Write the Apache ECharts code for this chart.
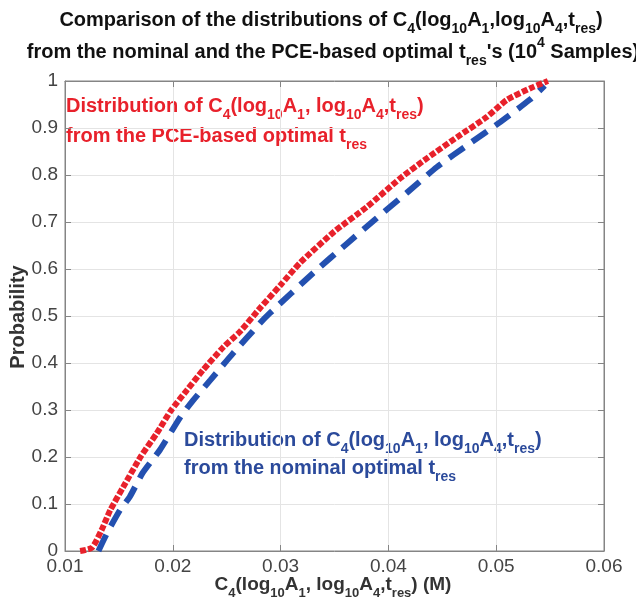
<!DOCTYPE html>
<html>
<head>
<meta charset="utf-8">
<script src="https://cdn.jsdelivr.net/npm/echarts@6/dist/echarts.min.js"></script>
<style>
html,body{margin:0;padding:0;background:#fff;}
#chart{width:636px;height:603px;}
</style>
</head>
<body>
<div id="chart"></div>
<script>
// Axis ticks
var xTicks = [0.01, 0.02, 0.03, 0.04, 0.05, 0.06];
var yTicks = [0, 0.1, 0.2, 0.3, 0.4, 0.5, 0.6, 0.7, 0.8, 0.9, 1];

// PCE-based optimal t_res (red dotted)
var pceX = [0.0114, 0.0125, 0.0134, 0.0142, 0.0154, 0.0170, 0.0185, 0.0198, 0.0213, 0.0228, 0.0247, 0.0262, 0.0281, 0.0300, 0.0318, 0.0350, 0.0380, 0.0411, 0.0436, 0.0464, 0.0491, 0.0510, 0.0534, 0.0548];
var pceY = [0.000, 0.007, 0.045, 0.087, 0.136, 0.200, 0.250, 0.298, 0.342, 0.385, 0.434, 0.466, 0.517, 0.566, 0.613, 0.680, 0.732, 0.793, 0.836, 0.881, 0.923, 0.960, 0.987, 1.000];

// Nominal optimal t_res (blue dashed)
var nomX = [0.0131, 0.0139, 0.0151, 0.0160, 0.0172, 0.0188, 0.0207, 0.0219, 0.0235, 0.0256, 0.0281, 0.0290, 0.0330, 0.0362, 0.0389, 0.0417, 0.0445, 0.0476, 0.0504, 0.0531, 0.0545];
var nomY = [0.000, 0.038, 0.087, 0.115, 0.166, 0.215, 0.285, 0.321, 0.364, 0.421, 0.485, 0.506, 0.591, 0.655, 0.708, 0.762, 0.817, 0.868, 0.913, 0.960, 0.990];

var RED = '#e8212b';
var BLUE = '#2350b0';
var BLUE_TXT = '#2b4a9b';
var FONT = '"Liberation Sans", Arial, Helvetica, sans-serif';

function pairs(xs, ys){ return xs.map(function(x,i){ return [x, ys[i]]; }); }

function richStyles(color, size){
  var lh = Math.round(size*1.6);
  var ss = Math.round(size*0.7);
  return {
    b: {fontSize: size, fontWeight: 'bold', color: color, fontFamily: FONT, lineHeight: lh, verticalAlign: 'middle'},
    s: {fontSize: ss, fontWeight: 'bold', color: color, fontFamily: FONT, lineHeight: Math.round(ss*1.1), verticalAlign: 'bottom'},
    p: {fontSize: ss, fontWeight: 'bold', color: color, fontFamily: FONT, lineHeight: Math.round(ss*1.1), verticalAlign: 'top'}
  };
}

function rtext(x, y, text, color, size, align){
  return {
    type: 'text', x: x, y: y, silent: true,
    style: {
      text: text, rich: richStyles(color, size),
      align: align || 'left', verticalAlign: 'middle',
      fill: color, font: 'bold ' + size + 'px ' + FONT
    }
  };
}

var chart = echarts.init(document.getElementById('chart'), null, {renderer: 'canvas'});

var grid = {left: 65, right: 32, top: 81, bottom: 52, show: true, borderColor: '#858585', borderWidth: 1, backgroundColor: 'transparent'};

var baseX = { type: 'value', min: xTicks[0], max: xTicks[xTicks.length-1], interval: 0.01 };
var baseY = { type: 'value', min: yTicks[0], max: yTicks[yTicks.length-1], interval: 0.1 };
var AX = '#858585';

var option = {
  animation: false,
  backgroundColor: '#fff',
  grid: grid,
  xAxis: [
    Object.assign({}, baseX, {
      position: 'bottom',
      axisLine: {show: true, onZero: false, lineStyle: {color: AX, width: 1}},
      axisTick: {show: true, inside: true, length: 6, lineStyle: {color: AX}},
      splitLine: {show: true, lineStyle: {color: '#e4e4e4', width: 1}},
      axisLabel: {color: '#444', fontSize: 19, fontFamily: FONT, margin: 6,
        formatter: function(v){ return v.toFixed(2); }}
    }),
    Object.assign({}, baseX, {
      position: 'top',
      axisLine: {show: true, onZero: false, lineStyle: {color: AX, width: 1}},
      axisTick: {show: true, inside: true, length: 6, lineStyle: {color: AX}},
      splitLine: {show: false},
      axisLabel: {show: false}
    })
  ],
  yAxis: [
    Object.assign({}, baseY, {
      position: 'left',
      axisLine: {show: true, onZero: false, lineStyle: {color: AX, width: 1}},
      axisTick: {show: true, inside: true, length: 6, lineStyle: {color: AX}},
      splitLine: {show: true, lineStyle: {color: '#e4e4e4', width: 1}},
      axisLabel: {color: '#444', fontSize: 19, fontFamily: FONT, margin: 7,
        formatter: function(v){ return String(+v.toFixed(1)); }}
    }),
    Object.assign({}, baseY, {
      position: 'right',
      axisLine: {show: true, onZero: false, lineStyle: {color: AX, width: 1}},
      axisTick: {show: true, inside: true, length: 6, lineStyle: {color: AX}},
      splitLine: {show: false},
      axisLabel: {show: false}
    })
  ],
  series: [
    {
      name: 'nominal', type: 'line', xAxisIndex: 0, yAxisIndex: 0,
      data: pairs(nomX, nomY), showSymbol: false, smooth: 0.2,
      lineStyle: {color: BLUE, width: 6, type: [18, 10]}, z: 2
    },
    {
      name: 'PCE', type: 'line', xAxisIndex: 0, yAxisIndex: 0,
      data: pairs(pceX, pceY), showSymbol: false, smooth: 0.2,
      lineStyle: {color: RED, width: 6, type: [6, 2]}, z: 3
    }
  ],
  graphic: [
    rtext(331, 20, '{b|Comparison of the distributions of C}{s|4}{b|(log}{s|10}{b|A}{s|1}{b|,log}{s|10}{b|A}{s|4}{b|,t}{s|res}{b|)}', '#111', 20, 'center'),
    rtext(333, 52, '{b|from the nominal and the PCE-based optimal t}{s|res}{b|\'s (10}{p|4}{b| Samples)}', '#111', 20, 'center'),
    rtext(333, 585, '{b|C}{s|4}{b|(log}{s|10}{b|A}{s|1}{b|, log}{s|10}{b|A}{s|4}{b|,t}{s|res}{b|) (M)}', '#333', 19, 'center'),
    {
      type: 'text', x: 18, y: 317, rotation: Math.PI/2, silent: true,
      style: {text: 'Probability', fill: '#333', font: 'bold 20px ' + FONT, align: 'center', verticalAlign: 'middle'}
    },
    rtext(66, 106, '{b|Distribution of C}{s|4}{b|(log}{s|10}{b|A}{s|1}{b|, log}{s|10}{b|A}{s|4}{b|,t}{s|res}{b|)}', RED, 20, 'left'),
    rtext(66, 136, '{b|from the PCE-based optimal t}{s|res}', RED, 20, 'left'),
    rtext(184, 440, '{b|Distribution of C}{s|4}{b|(log}{s|10}{b|A}{s|1}{b|, log}{s|10}{b|A}{s|4}{b|,t}{s|res}{b|)}', BLUE_TXT, 20, 'left'),
    rtext(184, 468, '{b|from the nominal optimal t}{s|res}', BLUE_TXT, 20, 'left')
  ]
};

chart.setOption(option);
</script>
</body>
</html>
